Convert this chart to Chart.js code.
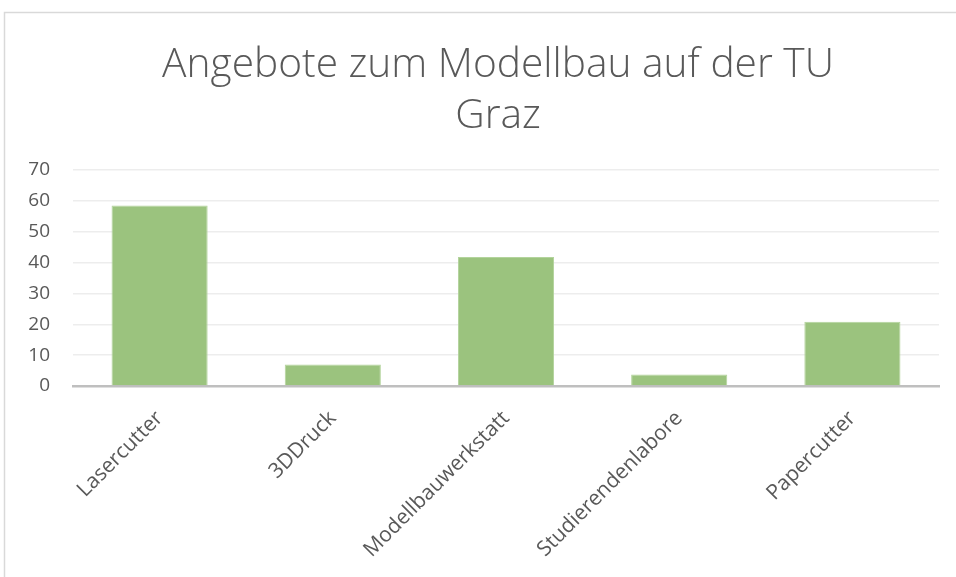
<!DOCTYPE html>
<html>
<head>
<meta charset="utf-8">
<script src="https://cdn.jsdelivr.net/npm/chart.js@4/dist/chart.umd.min.js"></script>
<style>
html,body{margin:0;padding:0;background:#fff;}
#wrap{position:relative;width:956px;height:577px;}
</style>
</head>
<body>
<div id="wrap"><canvas id="c" width="956" height="577"></canvas></div>
<script>
const titleLines = ["Angebote zum Modellbau auf der TU", "Graz"];
const categories = ["Lasercutter", "3DDruck", "Modellbauwerkstatt", "Studierendenlabore", "Papercutter"];
const values = [58.5, 7, 41.8, 3.7, 20.8];
const yTicks = [0, 10, 20, 30, 40, 50, 60, 70];

const textColor = '#595959';
const fontFam = "'Open Sans', 'Liberation Sans', sans-serif";

const framePlugin = {
  id: 'frame',
  beforeDraw(chart) {
    const ctx = chart.ctx;
    ctx.save();
    ctx.fillStyle = '#fff';
    ctx.fillRect(0, 0, chart.width, chart.height);
    ctx.strokeStyle = '#d9d9d9';
    ctx.lineWidth = 1.5;
    ctx.strokeRect(4.5, 12.5, 1200, 1200);
    ctx.restore();
  },
  afterDraw(chart) {
    const ctx = chart.ctx;
    ctx.save();
    ctx.fillStyle = textColor;
    ctx.textAlign = 'center';
    ctx.textBaseline = 'alphabetic';
    let size = 36;
    ctx.font = `300 ${size}px ${fontFam}`;
    const w = ctx.measureText(titleLines[0]).width;
    size = size * 672 / w;
    ctx.font = `300 ${size}px ${fontFam}`;
    ctx.fillText(titleLines[0], 498, 77);
    ctx.fillText(titleLines[1], 498, 128);
    ctx.restore();
  }
};

new Chart(document.getElementById('c'), {
  type: 'bar',
  data: {
    labels: categories,
    datasets: [{
      data: values,
      backgroundColor: '#9bc37e',
      borderColor: '#b3d49c',
      borderWidth: 1,
      categoryPercentage: 1,
      barPercentage: 0.555
    }]
  },
  options: {
    responsive: false,
    animation: false,
    devicePixelRatio: 1,
    layout: { padding: { left: 0, right: 17, top: 170, bottom: 0 } },
    plugins: { legend: { display: false }, title: { display: false }, tooltip: { enabled: false } },
    scales: {
      x: {
        offset: true,
        grid: { display: false, drawTicks: false },
        border: { display: true, color: '#bfbfbf', width: 2.5 },
        ticks: {
          color: textColor,
          font: { family: fontFam, size: 21 },
          minRotation: 45, maxRotation: 45,
          autoSkip: false,
          padding: 20
        },
        afterFit(s) { s.height = 191; }
      },
      y: {
        min: 0, max: 70,
        afterBuildTicks(s) { s.ticks = yTicks.map(v => ({ value: v })); },
        grid: { color: '#ededed', lineWidth: 1.5, drawTicks: false },
        border: { display: false },
        ticks: {
          color: textColor,
          font: { family: fontFam, size: 19 },
          padding: 23
        },
        afterFit(s) { s.width = 73; }
      }
    }
  },
  plugins: [framePlugin]
});
</script>
</body>
</html>
